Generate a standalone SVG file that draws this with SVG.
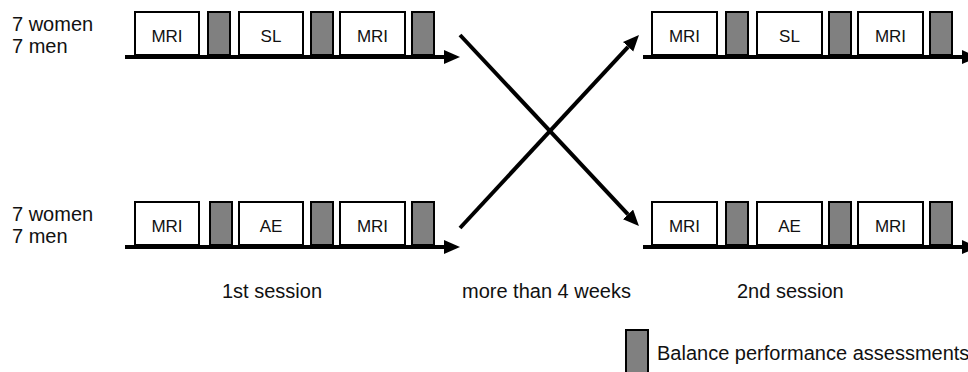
<svg xmlns="http://www.w3.org/2000/svg" width="968" height="372" viewBox="0 0 968 372">
<style>
  .box{fill:#fff;stroke:#000;stroke-width:2}
  .bpa{fill:#808080;stroke:#000;stroke-width:2}
  .lbl{font-family:"Liberation Sans",Arial,sans-serif;font-size:17px;fill:#111;text-anchor:middle}
  .txt{font-family:"Liberation Sans",Arial,sans-serif;font-size:20px;fill:#111}
  .ax{stroke:#000;stroke-width:4;fill:none}
</style>
<defs>
  <marker id="ah" markerUnits="userSpaceOnUse" markerWidth="17" markerHeight="15" refX="0" refY="7" orient="auto">
    <path d="M0,0 L16,7 L0,14 z" fill="#000"/>
  </marker>
</defs>
<rect width="968" height="372" fill="#fff"/>

<g id="group1-label">
  <text class="txt" x="12" y="31">7 women</text>
  <text class="txt" x="12" y="53">7 men</text>
</g>
<g id="group2-label">
  <text class="txt" x="12" y="221">7 women</text>
  <text class="txt" x="12" y="243">7 men</text>
</g>

<g id="connectors">
  <line class="ax" x1="125" y1="57" x2="444" y2="57" marker-end="url(#ah)"/>
  <line class="ax" x1="125" y1="247" x2="444" y2="247" marker-end="url(#ah)"/>
  <line class="ax" x1="643" y1="57" x2="962" y2="57" marker-end="url(#ah)"/>
  <line class="ax" x1="643" y1="247" x2="962" y2="247" marker-end="url(#ah)"/>
  <line class="ax" x1="460" y1="35" x2="628" y2="214.4" marker-end="url(#ah)"/>
  <line class="ax" x1="460" y1="228" x2="628.1" y2="46.8" marker-end="url(#ah)"/>
</g>

<g id="s1-top-mri1"><rect class="box" x="135" y="12" width="64" height="43"/><text class="lbl" x="167" y="42">MRI</text></g>
<g id="s1-top-b1"><rect class="bpa" x="208" y="12" width="22" height="43"/></g>
<g id="s1-top-sl"><rect class="box" x="239" y="12" width="64" height="43"/><text class="lbl" x="271" y="42">SL</text></g>
<g id="s1-top-b2"><rect class="bpa" x="311" y="12" width="22" height="43"/></g>
<g id="s1-top-mri2"><rect class="box" x="340" y="12" width="65" height="43"/><text class="lbl" x="372.5" y="42">MRI</text></g>
<g id="s1-top-b3"><rect class="bpa" x="412" y="12" width="22" height="43"/></g>

<g id="s1-bot-mri1"><rect class="box" x="135" y="202" width="64" height="43"/><text class="lbl" x="167" y="232">MRI</text></g>
<g id="s1-bot-b1"><rect class="bpa" x="210" y="202" width="22" height="43"/></g>
<g id="s1-bot-ae"><rect class="box" x="239" y="202" width="64" height="43"/><text class="lbl" x="271" y="232">AE</text></g>
<g id="s1-bot-b2"><rect class="bpa" x="311" y="202" width="22" height="43"/></g>
<g id="s1-bot-mri2"><rect class="box" x="340" y="202" width="65" height="43"/><text class="lbl" x="372.5" y="232">MRI</text></g>
<g id="s1-bot-b3"><rect class="bpa" x="412" y="202" width="22" height="43"/></g>

<g id="s2-top-mri1"><rect class="box" x="652" y="12" width="65" height="43"/><text class="lbl" x="684.5" y="42">MRI</text></g>
<g id="s2-top-b1"><rect class="bpa" x="726" y="12" width="22" height="43"/></g>
<g id="s2-top-sl"><rect class="box" x="757" y="12" width="65" height="43"/><text class="lbl" x="789.5" y="42">SL</text></g>
<g id="s2-top-b2"><rect class="bpa" x="829" y="12" width="22" height="43"/></g>
<g id="s2-top-mri2"><rect class="box" x="858" y="12" width="65" height="43"/><text class="lbl" x="890.5" y="42">MRI</text></g>
<g id="s2-top-b3"><rect class="bpa" x="930" y="12" width="22" height="43"/></g>

<g id="s2-bot-mri1"><rect class="box" x="652" y="202" width="65" height="43"/><text class="lbl" x="684.5" y="232">MRI</text></g>
<g id="s2-bot-b1"><rect class="bpa" x="726" y="202" width="22" height="43"/></g>
<g id="s2-bot-ae"><rect class="box" x="757" y="202" width="65" height="43"/><text class="lbl" x="789.5" y="232">AE</text></g>
<g id="s2-bot-b2"><rect class="bpa" x="829" y="202" width="22" height="43"/></g>
<g id="s2-bot-mri2"><rect class="box" x="858" y="202" width="65" height="43"/><text class="lbl" x="890.5" y="232">MRI</text></g>
<g id="s2-bot-b3"><rect class="bpa" x="930" y="202" width="22" height="43"/></g>

<g id="captions">
  <text class="txt" x="222" y="298">1st session</text>
  <text class="txt" x="462" y="298">more than 4 weeks</text>
  <text class="txt" x="737" y="298">2nd session</text>
</g>

<g id="legend">
  <rect class="bpa" x="626" y="330" width="22" height="46"/>
  <text class="txt" x="657" y="360">Balance performance assessments</text>
</g>
</svg>
